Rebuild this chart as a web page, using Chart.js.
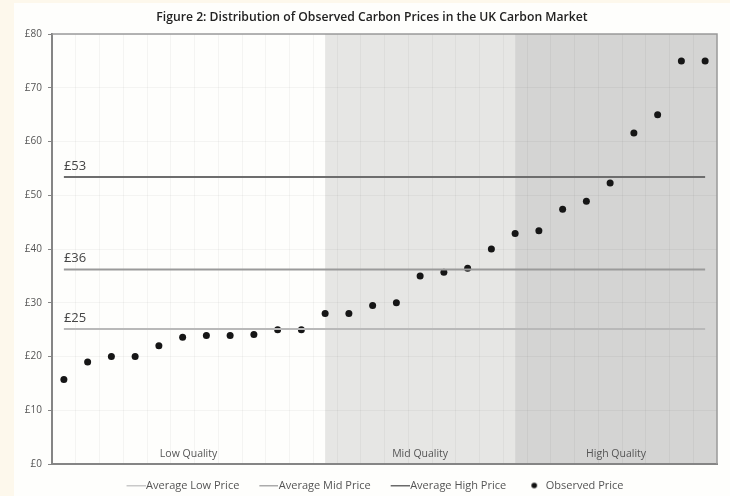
<!DOCTYPE html>
<html>
<head>
<meta charset="utf-8">
<script src="https://cdn.jsdelivr.net/npm/chart.js@4.4.1/dist/chart.umd.min.js"></script>
<style>
  html, body { margin: 0; padding: 0; overflow: hidden; background: #fdf8ec; }
  #wrap { position: absolute; left: 14px; top: 3px; width: 716px; height: 498px; background: #fefefc; }
</style>
</head>
<body>
<div id="wrap"><canvas id="chart" width="716" height="498"></canvas></div>
<script>
'use strict';

// observed price points, in order
var observedLabels = ['1', '2', '3', '4', '5', '6', '7', '8', '9', '10', '11', '12', '13', '14',
  '15', '16', '17', '18', '19', '20', '21', '22', '23', '24', '25', '26', '27', '28'];
var observedPrices = [15.7, 19, 20, 20, 22, 23.6, 23.9, 23.9, 24.1, 25, 25, 28, 28, 29.5,
  30, 35, 35.7, 36.4, 40, 42.9, 43.4, 47.4, 48.9, 52.3, 61.6, 65, 75, 75];

// average prices per quality band
var averageNames = ['Average Low Price', 'Average Mid Price', 'Average High Price'];
var averagePrices = [25.1, 36.2, 53.4];

// quality bands: name and index of the observation where the band starts
var bandNames = ['Low Quality', 'Mid Quality', 'High Quality'];
var bandStarts = [0, 11, 19];

var yTicks = [0, 10, 20, 30, 40, 50, 60, 70, 80];

var FONT = '"Open Sans", sans-serif';
var lineColors = ['#b9b9b9', '#9a9a9a', '#6d6d6d'];
var legendLineColors = ['#c9c9c9', '#ababab', '#6a6a6a'];
var bandFills = [null, '#e6e6e4', '#d4d4d3'];
var gridColor = 'rgba(0,0,0,0.04)';

// legend marks: 30px wide images, centred 10px into the legend box
var makeLegendLine = function (color) {
  var c = document.createElement('canvas');
  c.width = 30; c.height = 3;
  var g = c.getContext('2d');
  g.fillStyle = color;
  g.fillRect(11, 1, 19, 1.5);
  return c;
};

var makeLegendDot = function () {
  var c = document.createElement('canvas');
  c.width = 30; c.height = 8;
  var g = c.getContext('2d');
  g.fillStyle = '#111';
  g.beginPath();
  g.arc(19, 4, 2.8, 0, Math.PI * 2);
  g.fill();
  return c;
};

var legendMarks = [makeLegendLine(legendLineColors[0]), makeLegendLine(legendLineColors[1]),
  makeLegendLine(legendLineColors[2]), makeLegendDot()];

var datasets = averagePrices.map(function (v, i) {
  return {
    label: averageNames[i],
    data: [{x: observedLabels[0], y: v}, {x: observedLabels[observedLabels.length - 1], y: v}],
    borderColor: lineColors[i],
    borderWidth: 2,
    pointRadius: 0,
    fill: false
  };
});
datasets.push({
  label: 'Observed Price',
  data: observedPrices,
  showLine: false,
  pointRadius: 3.5,
  pointHoverRadius: 3.5,
  pointBackgroundColor: '#161616',
  pointBorderWidth: 0,
  borderColor: '#161616'
});

// shaded bands, band names, average labels and plot frame
var bandsPlugin = {
  id: 'bands',
  beforeDraw: function (chart) {
    var ctx = chart.ctx, area = chart.chartArea, xs = chart.scales.x;
    ctx.save();
    for (var i = 0; i < bandStarts.length; i++) {
      if (!bandFills[i]) continue;
      var x0 = xs.getPixelForValue(bandStarts[i]);
      var x1 = i + 1 < bandStarts.length ? xs.getPixelForValue(bandStarts[i + 1]) : area.right;
      ctx.fillStyle = bandFills[i];
      ctx.fillRect(x0, area.top, x1 - x0, area.bottom - area.top);
    }
    ctx.restore();
  },
  beforeDatasetsDraw: function (chart) {
    var ctx = chart.ctx, area = chart.chartArea, xs = chart.scales.x, ys = chart.scales.y;
    ctx.save();
    // top and right frame
    ctx.strokeStyle = '#9a9a9a';
    ctx.lineWidth = 1.5;
    ctx.beginPath();
    ctx.moveTo(area.left, area.top);
    ctx.lineTo(area.right, area.top);
    ctx.lineTo(area.right, area.bottom);
    ctx.stroke();
    // band names
    ctx.font = '10.5px ' + FONT;
    ctx.fillStyle = '#555';
    ctx.textAlign = 'center';
    ctx.textBaseline = 'middle';
    for (var i = 0; i < bandStarts.length; i++) {
      var x0 = i === 0 ? area.left : xs.getPixelForValue(bandStarts[i]);
      var x1 = i + 1 < bandStarts.length ? xs.getPixelForValue(bandStarts[i + 1]) : area.right;
      ctx.fillText(bandNames[i], (x0 + x1) / 2, area.bottom - 10);
    }
    // average values above their lines
    ctx.font = '13px ' + FONT;
    ctx.fillStyle = '#444';
    ctx.textAlign = 'left';
    ctx.textBaseline = 'alphabetic';
    averagePrices.forEach(function (v) {
      ctx.fillText('£' + Math.round(v), xs.getPixelForValue(0), ys.getPixelForValue(v) - 7);
    });
    ctx.restore();
  }
};

var chart = new Chart(document.getElementById('chart').getContext('2d'), {
  type: 'line',
  data: { labels: observedLabels, datasets: datasets },
  plugins: [bandsPlugin],
  options: {
    responsive: false,
    animation: false,
    layout: { padding: 0 },
    plugins: {
      tooltip: { enabled: false },
      title: {
        display: true,
        text: 'Figure 2: Distribution of Observed Carbon Prices in the UK Carbon Market',
        color: '#222',
        font: { family: FONT, size: 12.2, weight: '600' },
        padding: { top: 7, bottom: 9.4 }
      },
      legend: {
        position: 'bottom',
        labels: {
          usePointStyle: true,
          pointStyleWidth: 20,
          padding: 14,
          color: '#555',
          font: { family: FONT, size: 11 },
          generateLabels: function (c) {
            var items = Chart.defaults.plugins.legend.labels.generateLabels(c);
            items.forEach(function (it, i) { it.pointStyle = legendMarks[i]; });
            return items;
          }
        }
      }
    },
    scales: {
      x: {
        type: 'category',
        offset: true,
        grid: { offset: true, color: gridColor, drawTicks: false },
        border: { color: '#858585', width: 2 },
        ticks: { display: false },
        afterFit: function (scale) { scale.height = 2; }
      },
      y: {
        min: 0,
        max: 80,
        afterBuildTicks: function (scale) {
          scale.ticks = yTicks.map(function (v) { return {value: v}; });
        },
        grid: { color: gridColor, tickColor: '#858585', tickLength: 4 },
        border: { color: '#858585', width: 2 },
        ticks: {
          padding: 6,
          color: '#555',
          font: { family: FONT, size: 10 },
          callback: function (v) { return '£' + v; }
        },
        afterFit: function (scale) { scale.width = 38; }
      },
      // empty right margin so the title and legend stay centred on the page
      gap: {
        position: 'right',
        min: 0,
        max: 80,
        grid: { display: false },
        border: { display: false },
        ticks: { display: false },
        afterFit: function (scale) { scale.width = 13; }
      }
    }
  }
});
</script>
</body>
</html>
